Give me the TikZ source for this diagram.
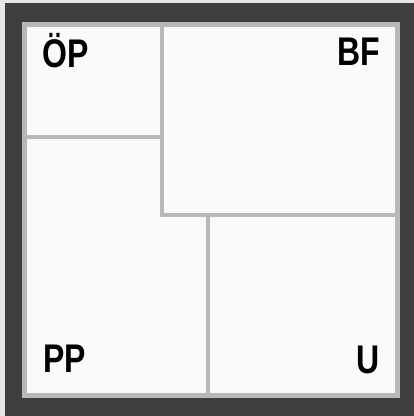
\documentclass[tikz,border=0pt]{standalone}
\usepackage{fontspec}
\newfontfamily\fieldfont[FakeStretch=0.8]{Liberation Sans}
\usetikzlibrary{positioning}
\definecolor{framedark}{HTML}{3E3E3E}
\definecolor{divider}{HTML}{B8B8B8}
\definecolor{paper}{HTML}{FAFAFA}
\definecolor{margin}{HTML}{E6E6E6}

\begin{document}
\begin{tikzpicture}[
  x=1pt,y=-1pt,
  field/.style={inner sep=0pt,font=\fieldfont\bfseries\fontsize{40}{40}\selectfont},
  divline/.style={divider,line width=4pt}
]
  \fill[margin] (0,0) rectangle (414,416);
  \useasboundingbox (0,0) rectangle (414,416);
  \fill[framedark] (5,3) rectangle (414,416);
  \fill[divider] (22,22) rectangle (400,398);
  \fill[paper] (27,27) rectangle (395,393);

  \coordinate (top) at (162,27);
  \coordinate (knee) at (162,215);
  \coordinate (left) at (27,137);
  \coordinate (mid) at (162,137);
  \coordinate (right) at (395,215);
  \coordinate (fork) at (208,215);
  \coordinate (bottom) at (208,393);

  \draw[divline] (top) -- (knee) -- (right);
  \draw[divline] (left) -- (mid);
  \draw[divline] (fork) -- (bottom);

  \node[field,anchor=base west] (op) at (42,67) {ÖP};
  \node[field,anchor=base east] (bf) at (380,65) {BF};
  \node[field,anchor=base west] (pp) at (43,372) {PP};
  \node[field,anchor=base east] (u) at (380,373) {U};
\end{tikzpicture}
\end{document}
